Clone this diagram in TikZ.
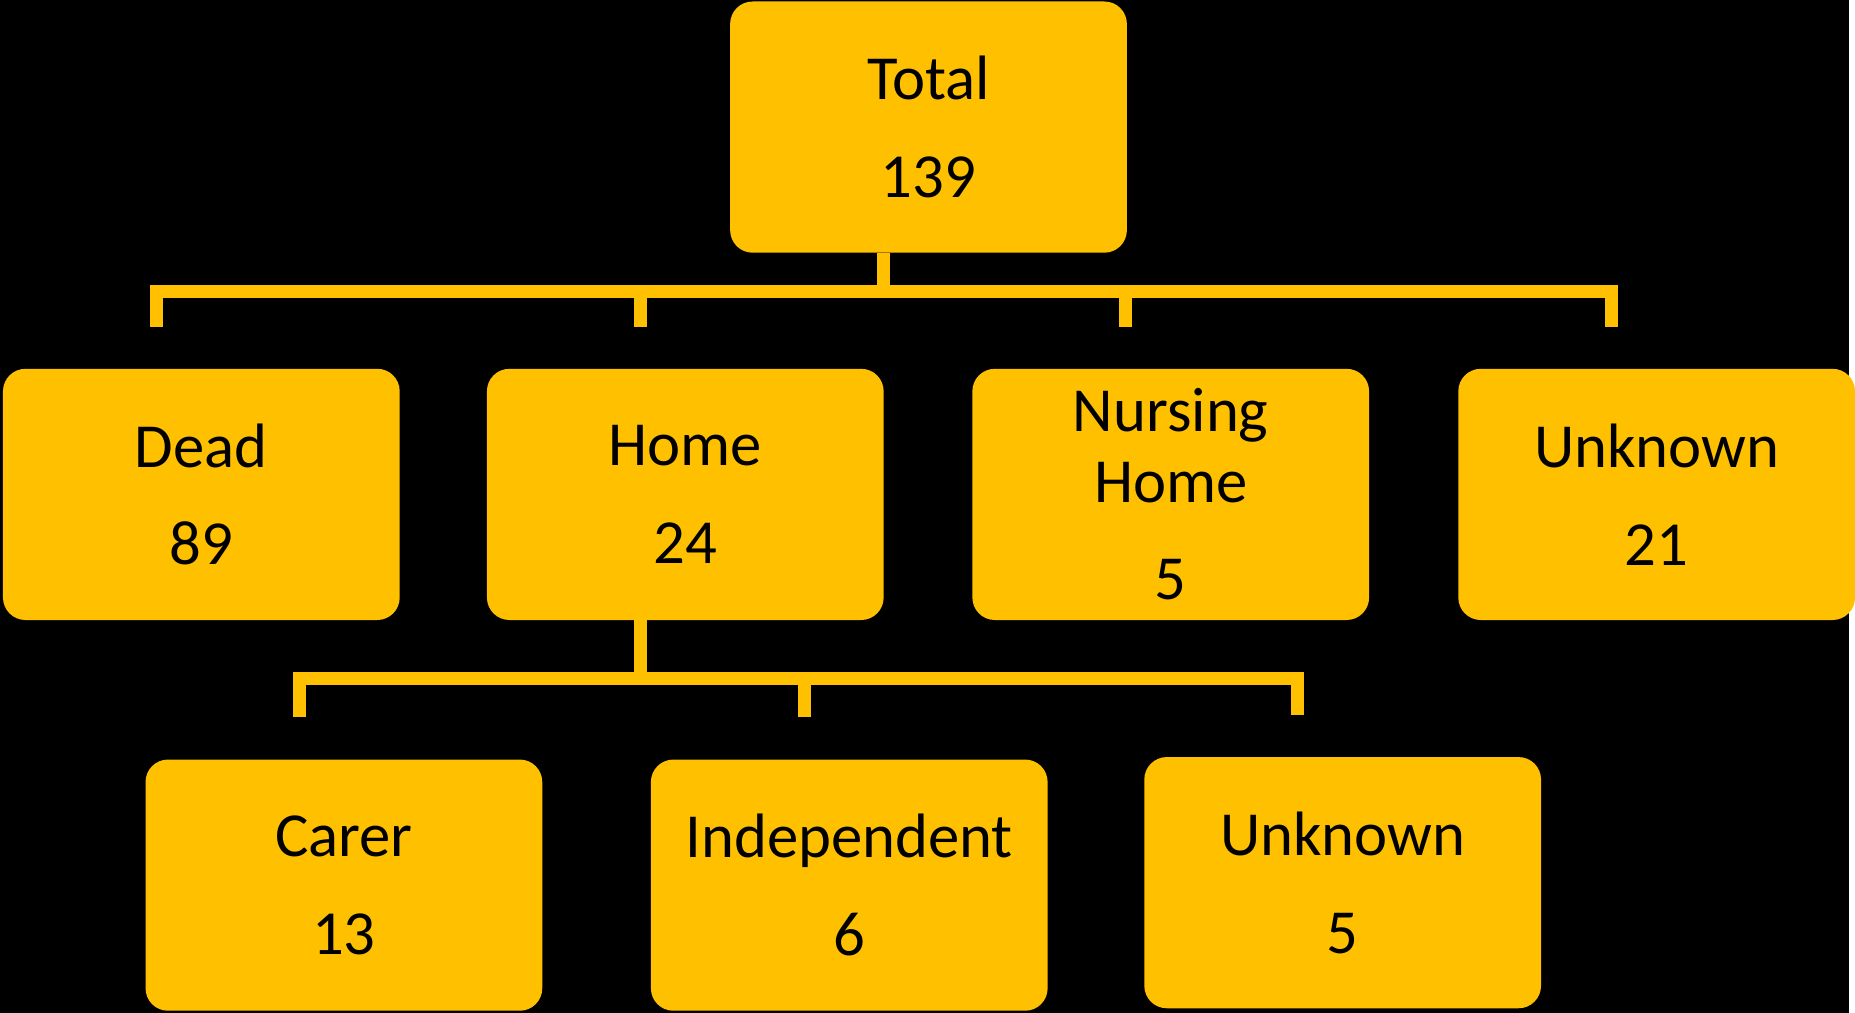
\documentclass[tikz,border=0pt]{standalone}
\usepackage{fontspec}
\setmainfont{Carlito}
\definecolor{gold}{HTML}{FFC000}
\tikzset{
    box/.style={fill=gold, rounded corners=0.45cm, minimum width=7.96cm, minimum height=5.04cm,
        inner sep=0pt, align=center, font=\fontsize{35.8pt}{40.4pt}\selectfont},
    link/.style={draw=gold, line width=0.26cm, line join=miter}
}
\begin{document}
\begin{tikzpicture}
        \fill[black] (0, 0) rectangle (37.1, -20.32);
    
        % Top box
        \node[box] (total) at (18.63, -2.55) {Total\\[0.54cm]139};
    
        % First level
        \node[box] (dead) at (4.04, -9.92) {Dead\\[0.54cm]89};
        \node[box] (home) at (13.75, -9.92) {Home\\[0.54cm]24};
        \node[box] (nursing) at (23.49, -9.92) {Nursing\\Home\\[0.54cm]5};
        \node[box] (unknown) at (33.24, -9.92) {Unknown\\[0.54cm]21};
    
        % Second level, under Home
        \node[box] (carer) at (6.9, -17.76) {Carer\\[0.54cm]13};
        \node[box] (indep) at (17.04, -17.76) {Independent\\[0.54cm]6};
        \node[box] (unknownb) at (26.94, -17.71) {Unknown\\[0.54cm]5};
    
        % Ends of the links, just above each box
        \foreach \n in {dead, home, nursing, unknown, carer, indep, unknownb}
            \coordinate (\n-in) at ([xshift=-0.9cm, yshift=0.84cm]\n.north);
        \coordinate (bar1) at ([xshift=-0.9cm, yshift=-0.77cm]total.south);
        \coordinate (bar2) at ([xshift=-0.9cm, yshift=-1.16cm]home.south);
    
        % Links from Total and from Home
        \foreach \n in {dead, home, nursing, unknown}
            \draw[link] ([xshift=-0.9cm]total.south) -- (bar1) -| (\n-in);
        \foreach \n in {carer, indep, unknownb}
            \draw[link] ([xshift=-0.9cm]home.south) -- (bar2) -| (\n-in);
\end{tikzpicture}
\end{document}
